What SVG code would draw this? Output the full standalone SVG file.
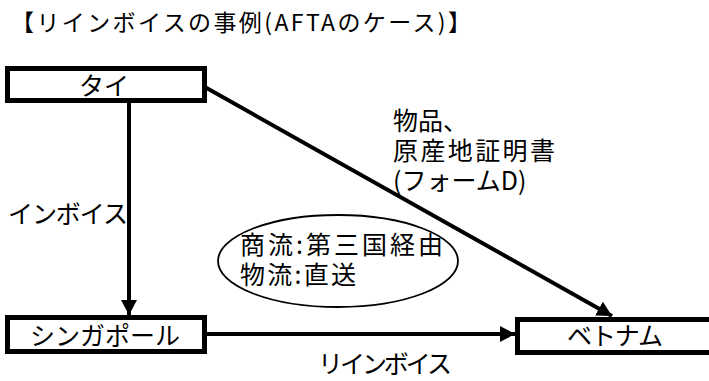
<svg xmlns="http://www.w3.org/2000/svg" width="709" height="381" viewBox="0 0 709 381">
<style>
text{font-family:"Noto Sans CJK JP","Noto Sans",sans-serif;fill:#000;}
.t{font-size:23px;}
.n{font-size:25px;}
.box{fill:#fff;stroke:#000;stroke-width:5;}
.ln{stroke:#000;stroke-width:4;fill:none;}
</style>
<defs>
<marker id="ah" markerUnits="userSpaceOnUse" markerWidth="16" markerHeight="16" refX="15" refY="8" orient="auto">
<path d="M0,0 L15,8 L0,16 Z" fill="#000"/>
</marker>
</defs>
<rect width="709" height="381" fill="#fff"/>
<text class="t" x="11" y="31" textLength="460" lengthAdjust="spacing">【リインボイスの事例(AFTAのケース)】</text>
<g id="connectors">
<line class="ln" x1="129" y1="103" x2="129" y2="315" marker-end="url(#ah)"/>
<line class="ln" x1="207" y1="334" x2="515" y2="334" marker-end="url(#ah)"/>
<line class="ln" x1="203" y1="86" x2="612" y2="316" marker-end="url(#ah)"/>
</g>
<g id="thai">
<rect class="box" x="7.5" y="68.5" width="197" height="32"/>
<text class="n" x="104" y="95" text-anchor="middle">タイ</text>
</g>
<g id="singapore">
<rect class="box" x="7.5" y="317.5" width="197" height="34"/>
<text class="n" x="105" y="345" text-anchor="middle" textLength="150" lengthAdjust="spacing">シンガポール</text>
</g>
<g id="vietnam">
<rect class="box" x="517.5" y="319.5" width="210" height="33"/>
<text class="n" x="615" y="345" text-anchor="middle" textLength="96" lengthAdjust="spacing">ベトナム</text>
</g>
<g id="note">
<ellipse cx="338" cy="261" rx="120" ry="46" fill="none" stroke="#000" stroke-width="1.8"/>
<text class="n" x="240" y="254" textLength="203" lengthAdjust="spacing">商流:第三国経由</text>
<text class="n" x="240" y="284" textLength="116" lengthAdjust="spacing">物流:直送</text>
</g>
<g id="labels">
<text class="n" x="8" y="223" textLength="120" lengthAdjust="spacing">インボイス</text>
<text class="n" x="318" y="373" textLength="134" lengthAdjust="spacing">リインボイス</text>
<text class="n" x="393" y="130">物品、</text>
<text class="n" x="393" y="160" textLength="162" lengthAdjust="spacing">原産地証明書</text>
<text class="n" x="393" y="190">(フォームD)</text>
</g>
</svg>
